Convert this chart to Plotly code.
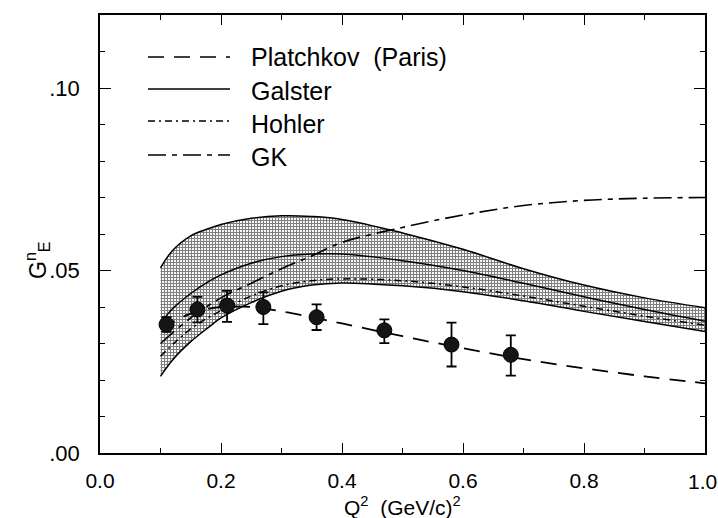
import plotly.graph_objects as go

# ---------------- data ----------------
q_grid = [0.10, 0.12, 0.15, 0.18, 0.20, 0.25, 0.30, 0.35, 0.40, 0.50, 0.60, 0.70, 0.80, 0.90, 1.00]
band_upper = [0.0507, 0.0555, 0.0595, 0.0615, 0.0626, 0.0643, 0.0650, 0.0648, 0.0640, 0.0603, 0.0558, 0.0505, 0.0460, 0.0425, 0.0398]
galster = [0.0355, 0.0395, 0.0437, 0.0470, 0.0488, 0.0520, 0.0538, 0.0545, 0.0545, 0.0527, 0.0500, 0.0465, 0.0428, 0.0393, 0.0361]
band_lower = [0.0210, 0.0255, 0.0305, 0.0345, 0.0370, 0.0412, 0.0443, 0.0460, 0.0466, 0.0458, 0.0442, 0.0417, 0.0388, 0.0360, 0.0333]

q_model = [0.10, 0.15, 0.20, 0.25, 0.30, 0.35, 0.40, 0.50, 0.60, 0.70, 0.80, 0.90, 1.00]
gk = [0.0300, 0.0370, 0.0425, 0.0465, 0.0505, 0.0540, 0.0577, 0.0618, 0.0652, 0.0678, 0.0692, 0.0698, 0.0700]
hohler = [0.0265, 0.0340, 0.0390, 0.0430, 0.0458, 0.0472, 0.0477, 0.0472, 0.0455, 0.0430, 0.0402, 0.0375, 0.0350]
platchkov = [0.0340, 0.0382, 0.0400, 0.0400, 0.0388, 0.0372, 0.0355, 0.0320, 0.0287, 0.0257, 0.0232, 0.0210, 0.0191]

q2_data = [0.110, 0.161, 0.210, 0.270, 0.358, 0.470, 0.581, 0.679]
gen_data = [0.0352, 0.0393, 0.0404, 0.0400, 0.0372, 0.0336, 0.0297, 0.0269]
err_plus = [0.0020, 0.0035, 0.0040, 0.0040, 0.0035, 0.0030, 0.0060, 0.0053]
err_minus = [0.0020, 0.0035, 0.0045, 0.0047, 0.0035, 0.0035, 0.0060, 0.0057]

x_tickvals = [0.0, 0.2, 0.4, 0.6, 0.8, 1.0]
x_ticktext = ["0.0", "0.2", "0.4", "0.6", "0.8", "1.0"]
y_tickvals = [0.00, 0.05, 0.10]
y_ticktext = [".00", ".05", ".10"]

legend_names = ["Platchkov  (Paris)", "Galster", "Hohler", "GK"]
x_title = "Q<sup>2</sup>  (GeV/c)<sup>2</sup>"
y_title = "G<sup>n</sup><sub>E</sub>"

FONT = "Liberation Sans, Arial, sans-serif"
DASH_PLATCHKOV = "16px,10px"
DASH_HOHLER = "7px,4px,2px,4px"
DASH_GK = "18px,6px,5px,6px"

X_RANGE = [0, 1.0]
Y_RANGE = [0, 0.12]

fig = go.Figure()

# band (Galster uncertainty)
fig.add_trace(go.Scatter(x=q_grid, y=band_lower, mode="lines", line=dict(color="black", width=1.5, shape="spline"),
                         showlegend=False, hoverinfo="skip"))
fig.add_trace(go.Scatter(x=q_grid, y=band_upper, mode="lines", line=dict(color="black", width=1.5, shape="spline"),
                         fill="tonexty", fillcolor="rgba(0,0,0,0)",
                         fillpattern=dict(shape="+", size=3, solidity=0.6, fgcolor="black", bgcolor="white"),
                         showlegend=False, hoverinfo="skip"))
fig.add_trace(go.Scatter(x=q_grid, y=galster, mode="lines", line=dict(color="black", width=1.5, shape="spline"),
                         showlegend=False))
fig.add_trace(go.Scatter(x=q_model, y=hohler, mode="lines",
                         line=dict(color="black", width=1.5, dash=DASH_HOHLER, shape="spline"), showlegend=False))
fig.add_trace(go.Scatter(x=q_model, y=gk, mode="lines",
                         line=dict(color="black", width=1.6, dash=DASH_GK, shape="spline"), showlegend=False))
fig.add_trace(go.Scatter(x=q_model, y=platchkov, mode="lines",
                         line=dict(color="black", width=1.8, dash=DASH_PLATCHKOV, shape="spline"), showlegend=False))

# data
fig.add_trace(go.Scatter(x=q2_data, y=gen_data, mode="markers",
                         marker=dict(color="#151515", size=15, line=dict(color="black", width=1)),
                         error_y=dict(type="data", symmetric=False, array=err_plus, arrayminus=err_minus,
                                      color="black", thickness=1.8, width=5),
                         showlegend=False))

# invisible trace carrying the minor-tick overlay axes
fig.add_trace(go.Scatter(x=[None], y=[None], xaxis="x2", yaxis="y2", showlegend=False, hoverinfo="skip"))

# manual legend
PLOT_L, PLOT_R, PLOT_T, PLOT_B = 100, 705, 15, 453
def px_to_paper_x(px):
    return (px - PLOT_L) / (PLOT_R - PLOT_L)
def py_to_paper_y(py):
    return (PLOT_B - py) / (PLOT_B - PLOT_T)

legend_dashes = [DASH_PLATCHKOV, "solid", DASH_HOHLER, DASH_GK]
legend_line_y = [57, 89, 121, 155]
legend_text_y = [57, 91, 124, 157]
for name, dash, ly, ty in zip(legend_names, legend_dashes, legend_line_y, legend_text_y):
    fig.add_shape(type="line", xref="paper", yref="paper",
                  x0=px_to_paper_x(148), x1=px_to_paper_x(230),
                  y0=py_to_paper_y(ly), y1=py_to_paper_y(ly),
                  line=dict(color="black", width=1.5, dash=dash))
    fig.add_annotation(xref="paper", yref="paper", x=px_to_paper_x(249), y=py_to_paper_y(ty),
                       text=name, showarrow=False, xanchor="left", yanchor="middle",
                       font=dict(family=FONT, size=25, color="black"))

# axis titles
fig.add_annotation(xref="paper", yref="paper", x=px_to_paper_x(37), y=py_to_paper_y(260),
                   text=y_title, textangle=-90, showarrow=False,
                   xanchor="center", yanchor="middle", font=dict(family=FONT, size=23, color="black"))
fig.add_annotation(xref="paper", yref="paper", x=0.5, y=py_to_paper_y(506),
                   text=x_title, showarrow=False,
                   xanchor="center", yanchor="middle", font=dict(family=FONT, size=21, color="black"))

# last x tick label placed flush with the right edge so it is not clipped
axis_ticktext = x_ticktext[:-1] + [""]
fig.add_annotation(xref="paper", yref="paper", x=px_to_paper_x(719), y=py_to_paper_y(481),
                   text=x_ticktext[-1], showarrow=False, xanchor="right", yanchor="middle",
                   font=dict(family=FONT, size=21, color="black"))

common_axis = dict(showgrid=False, zeroline=False, automargin=False, tickcolor="black")
fig.update_layout(
    width=718, height=518,
    margin=dict(l=PLOT_L, r=718 - PLOT_R, t=PLOT_T, b=518 - PLOT_B, autoexpand=False),
    paper_bgcolor="white", plot_bgcolor="white",
    font=dict(family=FONT, color="black"),
    showlegend=False,
    xaxis=dict(range=X_RANGE, tickmode="array", tickvals=x_tickvals, ticktext=axis_ticktext,
               ticks="inside", ticklen=10, tickwidth=1.3,
               showline=True, linecolor="black", linewidth=1.5, mirror="ticks",
               tickfont=dict(size=21), ticklabelstandoff=8, ticklabeloverflow="allow", **common_axis),
    yaxis=dict(range=Y_RANGE, tickmode="array", tickvals=y_tickvals, ticktext=y_ticktext,
               ticks="inside", ticklen=11, tickwidth=1.3,
               showline=True, linecolor="black", linewidth=1.5, mirror="ticks",
               tickfont=dict(size=22), ticklabelstandoff=14, ticklabeloverflow="allow", **common_axis),
    xaxis2=dict(range=X_RANGE, overlaying="x", anchor="y2", tickmode="linear", tick0=0, dtick=0.1,
                ticks="inside", ticklen=5, tickwidth=1.2, showticklabels=False,
                showline=False, mirror="ticks", **common_axis),
    yaxis2=dict(range=Y_RANGE, overlaying="y", anchor="x2", tickmode="linear", tick0=0, dtick=0.01,
                ticks="inside", ticklen=5, tickwidth=1.2, showticklabels=False,
                showline=False, mirror="ticks", **common_axis),
)

fig.write_html("out.html")
